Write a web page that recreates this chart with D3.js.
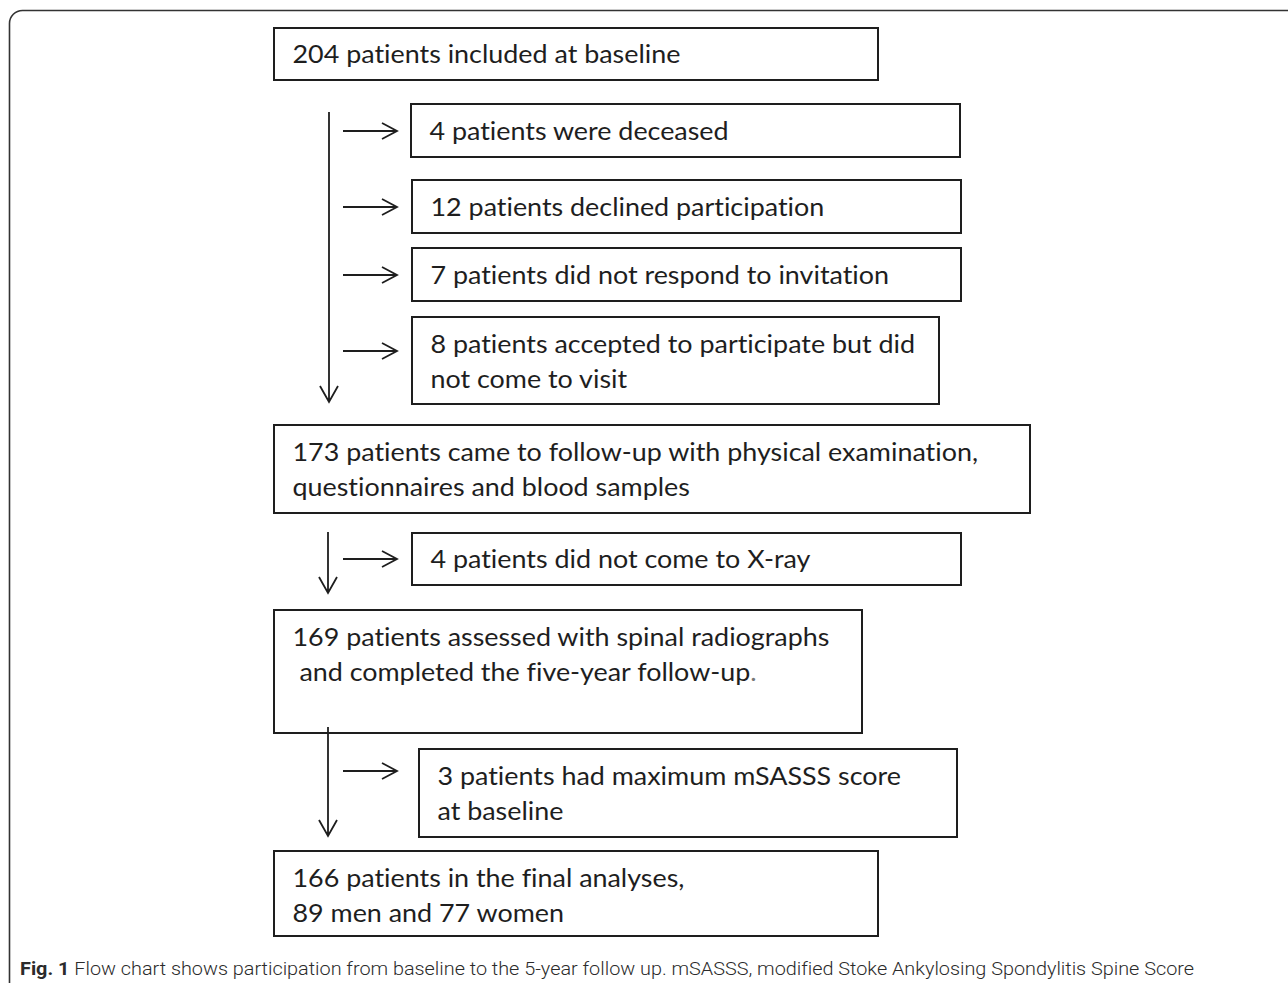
<!DOCTYPE html>
<html>
<head>
<meta charset="utf-8">
<script src="https://cdn.jsdelivr.net/npm/d3@7"></script>
<style>
  html, body { margin: 0; padding: 0; background: #ffffff; }
  svg { display: block; }
  text { font-variant-ligatures: none; }
</style>
</head>
<body>
<svg id="chart" width="1288" height="983"></svg>
<script>
// ---------- data ----------
const boxLabels = [
  ["204 patients included at baseline"],
  ["4 patients were deceased"],
  ["12 patients declined participation"],
  ["7 patients did not respond to invitation"],
  ["8 patients accepted to participate but did", "not come to visit"],
  ["173 patients came to follow-up with physical examination,", "questionnaires and blood samples"],
  ["4 patients did not come to X-ray"],
  ["169 patients assessed with spinal radiographs", " and completed the five-year follow-up"],
  ["3 patients had maximum mSASSS score", "at baseline"],
  ["166 patients in the final analyses,", "89 men and 77 women"]
];
const patientCounts = [204, 4, 12, 7, 8, 173, 4, 169, 3, 166];
const captionBold = "Fig. 1";
const captionText = " Flow chart shows participation from baseline to the 5-year follow up. mSASSS, modified Stoke Ankylosing Spondylitis Spine Score";

// ---------- layout (pixels) ----------
const boxLayout = [
  {x0: 274, y0: 28,  x1: 878,  y1: 80},
  {x0: 411, y0: 104, x1: 960,  y1: 157},
  {x0: 412, y0: 180, x1: 961,  y1: 233},
  {x0: 412, y0: 248, x1: 961,  y1: 301},
  {x0: 412, y0: 317, x1: 939,  y1: 404},
  {x0: 274, y0: 425, x1: 1030, y1: 513},
  {x0: 412, y0: 533, x1: 961,  y1: 585},
  {x0: 274, y0: 610, x1: 862,  y1: 733},
  {x0: 419, y0: 749, x1: 957,  y1: 837},
  {x0: 274, y0: 851, x1: 878,  y1: 936}
];
const downArrows = [
  {x: 329, y0: 112, y1: 402},
  {x: 328, y0: 532, y1: 593},
  {x: 328, y0: 727, y1: 836}
];
const sideArrows = [131, 207, 275, 351, 559, 771].map(y => ({y, x0: 343, x1: 397}));

const svg = d3.select("#chart");
const ink = "#1e1e1e";

// outer rounded frame (extends beyond the window on right and bottom)
svg.append("rect")
  .attr("x", 9.5).attr("y", 10.5)
  .attr("width", 1300).attr("height", 985)
  .attr("rx", 13).attr("ry", 13)
  .attr("fill", "none").attr("stroke", "#333").attr("stroke-width", 1.6);

// boxes
const boxes = svg.append("g").selectAll("g")
  .data(boxLayout.map((b, i) => ({...b, lines: boxLabels[i], n: patientCounts[i]})))
  .join("g");

boxes.append("rect")
  .attr("x", d => d.x0).attr("y", d => d.y0)
  .attr("width", d => d.x1 - d.x0).attr("height", d => d.y1 - d.y0)
  .attr("fill", "#fff").attr("stroke", ink).attr("stroke-width", 2);

const fontSize = 25;
const lineStep = 35;
const texts = boxes.append("text")
  .attr("font-family", "Lato, 'Open Sans', sans-serif")
  .attr("font-size", fontSize)
  .attr("fill", ink)
  .attr("xml:space", "preserve")
  .style("white-space", "pre");

texts.each(function(d) {
  const t = d3.select(this);
  const tx = d.x0 + 18.5;
  const firstBase = d.lines.length === 1 ? (d.y0 + d.y1) / 2 + 9 : d.y0 + 36;
  d.lines.forEach((line, i) => {
    t.append("tspan").attr("x", 0).attr("y", i * lineStep).text(line);
  });
  // period in gray for box 8 second line
  if (d.n === 169) {
    t.select("tspan:last-child").append("tspan").attr("fill", "#777").text(".");
  }
  d.tx = tx; d.ty = firstBase;
});

// compress to Calibri-like widths: reference first line width is 388px
const refNode = texts.filter((d, i) => i === 0).select("tspan").node();
const measured = refNode.getComputedTextLength();
const sx = 388 / measured;
texts.attr("transform", d => `translate(${d.tx},${d.ty}) scale(${sx},1)`);

// arrows
const arrows = svg.append("g").attr("stroke", ink).attr("stroke-width", 1.8).attr("fill", "none");
arrows.selectAll("path.down").data(downArrows).join("path")
  .attr("class", "down")
  .attr("d", d => `M${d.x},${d.y0}V${d.y1}M${d.x - 9},${d.y1 - 16}L${d.x},${d.y1}L${d.x + 9},${d.y1 - 16}`);
arrows.selectAll("path.side").data(sideArrows).join("path")
  .attr("class", "side")
  .attr("d", d => `M${d.x0},${d.y}H${d.x1}M${d.x1 - 15},${d.y - 8}L${d.x1},${d.y}L${d.x1 - 15},${d.y + 8}`);

// caption
const cap = svg.append("text")
  .attr("font-family", "Roboto, 'Open Sans', sans-serif")
  .attr("font-size", 19)
  .attr("fill", "#2b2b2b")
  .attr("xml:space", "preserve")
  .style("white-space", "pre");
cap.append("tspan").attr("font-weight", "bold").text(captionBold);
cap.append("tspan").attr("font-weight", 300).text(captionText);
const capW = cap.node().getComputedTextLength();
cap.attr("transform", `translate(20,975) scale(${1175 / capW},1)`);
</script>
</body>
</html>
